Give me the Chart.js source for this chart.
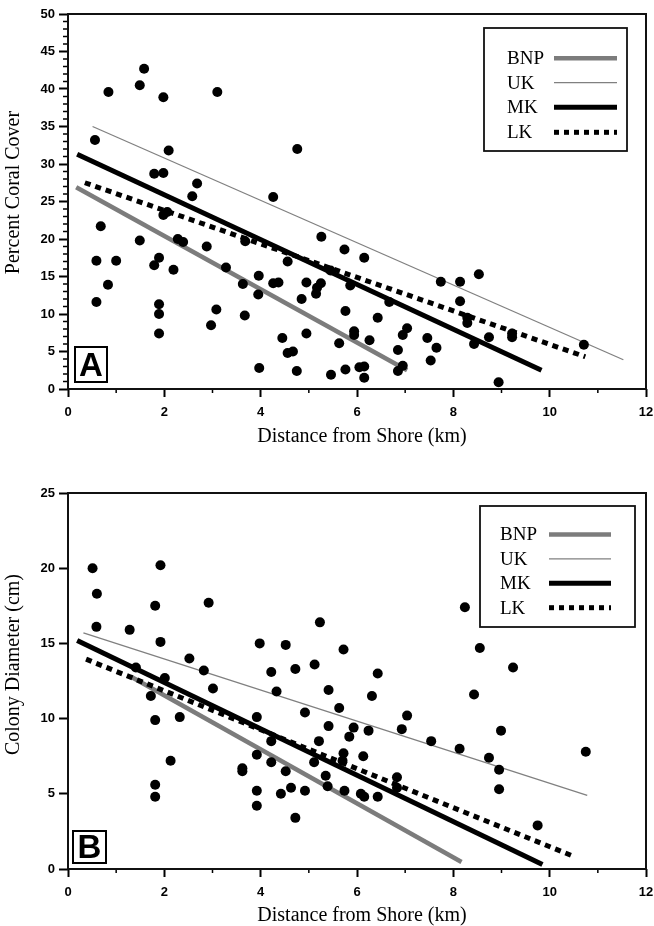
<!DOCTYPE html>
<html>
<head>
<meta charset="utf-8">
<script src="https://cdn.jsdelivr.net/npm/chart.js@4.4.1/dist/chart.umd.min.js"></script>
<style>
  html, body { margin:0; padding:0; background:#fff; }
  body { width:654px; height:926px; position:relative; overflow:hidden; }
  canvas { position:absolute; left:0; }
  #cA { top:0; }
  #cB { top:463px; }
</style>
</head>
<body>
<canvas id="cA" width="654" height="463"></canvas>
<canvas id="cB" width="654" height="463"></canvas>
<script>
// ---------- Panel A: Percent Coral Cover ----------
const aX = [0.56,0.84,1.49,1.58,1.98,3.10,2.09,4.76,1.79,1.98,2.68,2.58,4.26,0.68,1.49,0.59,1.00,0.83,0.59,1.79,
            1.89,2.19,1.89,1.89,1.89,1.98,2.06,2.28,2.39,2.88,3.28,3.08,2.97,3.67,3.63,3.68,3.96,3.95,3.97,4.26,
            4.37,4.56,4.45,4.56,4.67,4.75,4.85,4.95,4.95,5.25,5.15,5.26,5.46,5.63,5.17,5.74,6.15,5.76,6.43,5.86,
            5.94,5.94,6.26,5.76,6.05,6.15,6.15,8.53,7.74,8.14,8.14,8.29,8.29,5.45,6.67,7.04,6.95,6.85,7.46,7.65,
            7.53,8.74,8.43,9.22,9.22,10.71,8.94,6.95,6.85];
const aY = [33.2,39.6,40.5,42.7,38.9,39.6,31.8,32.0,28.7,28.8,27.4,25.7,25.6,21.7,19.8,17.1,17.1,13.9,11.6,16.5,
            17.5,15.9,11.3,10.0,7.4,23.2,23.6,20.0,19.6,19.0,16.2,10.6,8.5,9.8,14.0,19.7,15.1,12.6,2.8,14.1,
            14.2,17.0,6.8,4.8,5.0,2.4,12.0,7.4,14.2,14.1,12.7,20.3,1.9,6.1,13.5,18.6,17.5,10.4,9.5,13.8,
            7.7,7.2,6.5,2.6,2.9,3.0,1.5,15.3,14.3,14.3,11.7,9.5,8.8,15.8,11.6,8.1,7.2,5.2,6.8,5.5,
            3.8,6.9,6.0,7.4,6.9,5.9,0.9,3.1,2.4];
// regression line end points (x, y)
const aBnpX = [0.17, 7.04];  const aBnpY = [26.9, 2.5];
const aUkX  = [0.51, 11.53]; const aUkY  = [35.0, 3.9];
const aMkX  = [0.19, 9.83];  const aMkY  = [31.3, 2.5];
const aLkX  = [0.35, 10.74]; const aLkY  = [27.5, 4.3];

// ---------- Panel B: Colony Diameter ----------
const bX = [0.51,0.60,0.59,1.28,1.92,1.81,1.92,2.92,2.52,2.82,3.98,4.52,5.23,4.22,4.72,5.12,1.41,2.01,3.01,4.33,
            5.41,1.72,1.81,2.32,2.13,1.81,1.81,3.92,4.92,5.21,5.41,4.22,3.92,4.22,3.62,3.62,4.52,5.11,3.92,3.92,
            4.42,4.63,4.92,4.72,5.35,8.24,5.72,8.55,9.24,6.43,6.31,8.43,5.63,7.04,5.93,5.84,6.24,6.93,8.99,7.54,
            8.13,8.74,8.95,8.95,10.75,9.75,5.72,5.70,6.13,6.83,6.83,6.43,6.08,6.15,5.74,5.39];
const bY = [20.0,18.3,16.1,15.9,20.2,17.5,15.1,17.7,14.0,13.2,15.0,14.9,16.4,13.1,13.3,13.6,13.4,12.7,12.0,11.8,
            11.9,11.5,9.9,10.1,7.2,5.6,4.8,10.1,10.4,8.5,9.5,8.5,7.6,7.1,6.7,6.5,6.5,7.1,5.2,4.2,
            5.0,5.4,5.2,3.4,6.2,17.4,14.6,14.7,13.4,13.0,11.5,11.6,10.7,10.2,9.4,8.8,9.2,9.3,9.2,8.5,
            8.0,7.4,6.6,5.3,7.8,2.9,7.7,7.2,7.5,6.1,5.4,4.8,5.0,4.8,5.2,5.5];
const bBnpX = [1.30, 8.17];  const bBnpY = [12.8, 0.47];
const bUkX  = [0.32, 10.78]; const bUkY  = [15.7, 4.9];
const bMkX  = [0.19, 9.85];  const bMkY  = [15.2, 0.3];
const bLkX  = [0.375, 10.49]; const bLkY = [13.95, 0.85];

const seriesNames = ['BNP', 'UK', 'MK', 'LK'];
const xTickMax = 12;

function pts(xs, ys) { return xs.map((v, i) => ({ x: v, y: ys[i] })); }
function range(a, b, step) { const r = []; for (let v = a; v <= b + 1e-9; v += step) r.push(v); return r; }

const decoPlugin = {
  id: 'deco',
  afterDatasetsDraw(chart, args, o) {
    const { ctx, chartArea: ca, scales: { x, y } } = chart;
    ctx.save();
    // minor ticks
    ctx.strokeStyle = '#000';
    ctx.lineWidth = 1.5;
    ctx.beginPath();
    o.xMinor.forEach(v => { const p = x.getPixelForValue(v); ctx.moveTo(p, ca.bottom); ctx.lineTo(p, ca.bottom + 4); });
    o.yMinor.forEach(v => { const p = y.getPixelForValue(v); ctx.moveTo(ca.left - 5, p); ctx.lineTo(ca.left, p); });
    ctx.stroke();
    // frame
    ctx.strokeStyle = '#111';
    ctx.lineWidth = 2;
    ctx.strokeRect(ca.left, ca.top, ca.right - ca.left, ca.bottom - ca.top);

    // panel letter
    const L = o.letter;
    ctx.fillStyle = '#fff';
    ctx.fillRect(L.x, L.y, L.w, L.h);
    ctx.strokeStyle = '#000';
    ctx.lineWidth = 2;
    ctx.strokeRect(L.x, L.y, L.w, L.h);
    ctx.fillStyle = '#000';
    ctx.font = 'bold 33px "Liberation Sans", Arial, sans-serif';
    ctx.textAlign = 'center';
    ctx.textBaseline = 'middle';
    ctx.fillText(L.text, L.x + L.w / 2, L.y + L.h / 2 + 2);

    // legend
    const G = o.legend;
    ctx.fillStyle = '#fff';
    ctx.fillRect(G.x, G.y, G.w, G.h);
    ctx.strokeStyle = '#111';
    ctx.lineWidth = 1.8;
    ctx.strokeRect(G.x, G.y, G.w, G.h);
    const lineDs = chart.data.datasets.filter(d => d.type === 'line');
    seriesNames.forEach((name, i) => {
      const ds = lineDs.find(d => d.label === name);
      const yy = G.rowY[i];
      ctx.fillStyle = '#000';
      ctx.font = '19px "Liberation Serif", "Times New Roman", serif';
      ctx.textAlign = 'left';
      ctx.textBaseline = 'middle';
      ctx.fillText(name, G.textX, yy + 1);
      ctx.strokeStyle = ds.borderColor;
      ctx.lineWidth = ds.borderWidth;
      ctx.setLineDash(ds.legendDash || []);
      ctx.lineCap = 'butt';
      ctx.beginPath();
      ctx.moveTo(G.lineX0, yy);
      ctx.lineTo(G.lineX1, yy);
      ctx.stroke();
      ctx.setLineDash([]);
    });

    // axis titles
    ctx.fillStyle = '#000';
    ctx.font = '20px "Liberation Serif", "Times New Roman", serif';
    ctx.textAlign = 'center';
    ctx.textBaseline = 'middle';
    ctx.fillText(o.xTitle.text, o.xTitle.x, o.xTitle.y);
    ctx.save();
    ctx.translate(o.yTitle.x, o.yTitle.y);
    ctx.rotate(-Math.PI / 2);
    ctx.fillText(o.yTitle.text, 0, 0);
    ctx.restore();
    ctx.restore();
  }
};

function makeChart(id, cfg) {
  const tickFont = { family: '"Liberation Sans", Arial, sans-serif', size: 13, weight: 'bold' };
  const lineDs = (label, xs, ys, color, width, dash, legendDash, order) => ({
    type: 'line', label, data: pts(xs, ys), borderColor: color, borderWidth: width,
    borderDash: dash, legendDash, borderCapStyle: 'butt', pointRadius: 0, fill: false,
    tension: 0, order
  });
  return new Chart(document.getElementById(id), {
    type: 'scatter',
    data: {
      datasets: [
        { type: 'scatter', label: 'sites', data: pts(cfg.xs, cfg.ys), pointRadius: 5, pointHoverRadius: 5,
          backgroundColor: '#000', borderColor: '#000', borderWidth: 0, order: 0 },
        lineDs('BNP', cfg.bnp[0], cfg.bnp[1], '#7c7c7c', 4.5, [], [], 4),
        lineDs('UK',  cfg.uk[0],  cfg.uk[1],  '#808080', 1.3, [], [], 3),
        lineDs('MK',  cfg.mk[0],  cfg.mk[1],  '#000', 5, [], [], 2),
        lineDs('LK',  cfg.lk[0],  cfg.lk[1],  '#000', 5, [6, 5], [5, 5], 1)
      ]
    },
    options: {
      responsive: false,
      animation: false,
      events: [],
      layout: { padding: { top: cfg.padTop, right: 8, left: 0, bottom: 0 } },
      plugins: {
        legend: { display: false },
        tooltip: { enabled: false },
        deco: cfg.deco
      },
      scales: {
        x: {
          type: 'linear', min: 0, max: xTickMax,
          ticks: { stepSize: 2, font: tickFont, color: '#000', padding: 8, maxRotation: 0 },
          grid: { drawOnChartArea: false, drawTicks: true, tickLength: 8, tickColor: '#000', tickWidth: 2 },
          border: { display: false },
          afterFit(s) { s.height = cfg.xHeight; s.paddingLeft = 0; s.paddingRight = 0; }
        },
        y: {
          type: 'linear', min: 0, max: cfg.yMax,
          ticks: { stepSize: 5, font: tickFont, color: '#000', padding: 4 },
          grid: { drawOnChartArea: false, drawTicks: true, tickLength: 9, tickColor: '#000', tickWidth: 2 },
          border: { display: false },
          afterFit(s) { s.width = 68; }
        }
      }
    },
    plugins: [decoPlugin]
  });
}

makeChart('cA', {
  xs: aX, ys: aY,
  bnp: [aBnpX, aBnpY], uk: [aUkX, aUkY], mk: [aMkX, aMkY], lk: [aLkX, aLkY],
  yMax: 50, padTop: 14, xHeight: 74,
  deco: {
    xMinor: range(1, 11, 2),
    yMinor: range(1, 49, 1).filter(v => v % 5 !== 0),
    letter: { text: 'A', x: 75, y: 347, w: 32, h: 35 },
    legend: { x: 484, y: 28, w: 143, h: 123, textX: 507, lineX0: 554, lineX1: 617, rowY: [58.3, 82.7, 107.3, 132.3] },
    xTitle: { text: 'Distance from Shore (km)', x: 362, y: 436.5 },
    yTitle: { text: 'Percent Coral Cover', x: 14, y: 192.5 }
  }
});

makeChart('cB', {
  xs: bX, ys: bY,
  bnp: [bBnpX, bBnpY], uk: [bUkX, bUkY], mk: [bMkX, bMkY], lk: [bLkX, bLkY],
  yMax: 25, padTop: 30, xHeight: 57,
  deco: {
    xMinor: range(1, 11, 2),
    yMinor: [],
    letter: { text: 'B', x: 73, y: 368, w: 33, h: 32 },
    legend: { x: 480, y: 43, w: 155, h: 121, textX: 500, lineX0: 549, lineX1: 611, rowY: [71.5, 95.9, 120.3, 144.7] },
    xTitle: { text: 'Distance from Shore (km)', x: 362, y: 453 },
    yTitle: { text: 'Colony Diameter (cm)', x: 14, y: 201.5 }
  }
});
</script>
</body>
</html>
